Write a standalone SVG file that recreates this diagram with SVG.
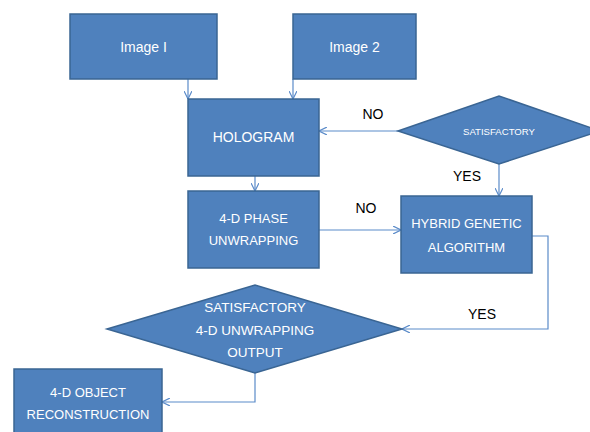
<svg xmlns="http://www.w3.org/2000/svg" width="590" height="432" viewBox="0 0 590 432">
<style>
.box{fill:#4F81BD;stroke:#3A6593;stroke-width:1.5}
.t{fill:#fff;font-family:"Liberation Sans",Arial,sans-serif;text-anchor:middle}
.lbl{fill:#000;font-family:"Liberation Sans",Arial,sans-serif;font-size:14px;text-anchor:middle}
.c{fill:none;stroke:#5B8BC9;stroke-width:1.2}
</style>
<defs>
<marker id="ah" viewBox="0 0 10 10" refX="10" refY="5" markerWidth="8" markerHeight="8" markerUnits="userSpaceOnUse" orient="auto">
<path d="M0,0 L10,5 L0,10" fill="none" stroke="#5B8BC9" stroke-width="1.5"/>
</marker>
</defs>
<rect width="590" height="432" fill="#fff"/>
<g id="connectors">
<path class="c" d="M188,79 V99" marker-end="url(#ah)"/>
<path class="c" d="M293,79 V99" marker-end="url(#ah)"/>
<path class="c" d="M255,176 V191" marker-end="url(#ah)"/>
<path class="c" d="M398,131 H319" marker-end="url(#ah)"/>
<path class="c" d="M499,164 V196" marker-end="url(#ah)"/>
<path class="c" d="M319,230 H401" marker-end="url(#ah)"/>
<path class="c" d="M532,236 H548 V329 H402" marker-end="url(#ah)"/>
<path class="c" d="M255,373 V402 H162" marker-end="url(#ah)"/>
<text class="lbl" x="373" y="119">NO</text>
<text class="lbl" x="467" y="181">YES</text>
<text class="lbl" x="366" y="213">NO</text>
<text class="lbl" x="482" y="319">YES</text>
</g>
<g id="image1">
<rect class="box" x="70" y="14" width="147" height="65"/>
<text class="t" x="143.5" y="52" font-size="14">Image I</text>
</g>
<g id="image2">
<rect class="box" x="293" y="14" width="123" height="65"/>
<text class="t" x="354.5" y="52" font-size="14">Image 2</text>
</g>
<g id="hologram">
<rect class="box" x="188" y="99" width="131" height="77"/>
<text class="t" x="253.5" y="142" font-size="14">HOLOGRAM</text>
</g>
<g id="satisfactory">
<polygon class="box" points="398,131 499,96 600,131 499,164"/>
<text class="t" x="499" y="134.5" font-size="9.6">SATISFACTORY</text>
</g>
<g id="phase">
<rect class="box" x="188" y="191" width="131" height="77"/>
<text class="t" x="253.5" y="223" font-size="13">4-D PHASE</text>
<text class="t" x="253.5" y="245" font-size="13">UNWRAPPING</text>
</g>
<g id="hga">
<rect class="box" x="401" y="196" width="131" height="77"/>
<text class="t" x="466.5" y="228" font-size="13">HYBRID GENETIC</text>
<text class="t" x="466.5" y="252" font-size="13">ALGORITHM</text>
</g>
<g id="output">
<polygon class="box" points="107,329 255,285 402,329 255,373"/>
<text class="t" x="255" y="312" font-size="13.5">SATISFACTORY</text>
<text class="t" x="255" y="335" font-size="13.5">4-D UNWRAPPING</text>
<text class="t" x="255" y="357" font-size="13.5">OUTPUT</text>
</g>
<g id="reconstruction">
<rect class="box" x="14" y="369" width="148" height="70"/>
<text class="t" x="88" y="397" font-size="13">4-D OBJECT</text>
<text class="t" x="88" y="419" font-size="13">RECONSTRUCTION</text>
</g>
</svg>
